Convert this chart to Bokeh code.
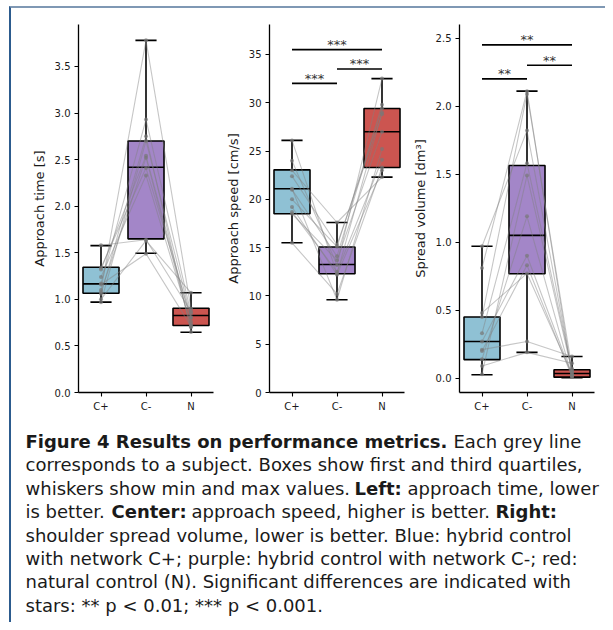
from bokeh.plotting import figure
from bokeh.layouts import row, column
from bokeh.models import Range1d, FixedTicker, NumeralTickFormatter, ColumnDataSource
from bokeh.embed import file_html
from bokeh.resources import INLINE
from bokeh.core.properties import value

# ---------------- data ----------------
categories = ["C+", "C-", "N"]
positions = [0, 1, 2]
box_colors = ["#8fc1d4", "#a386c8", "#cc5550"]

# Approach time [s] : box statistics (min, Q1, median, Q3, max)
time_min = [0.97, 1.495, 0.647]
time_q1 = [1.066, 1.649, 0.719]
time_med = [1.166, 2.417, 0.826]
time_q3 = [1.345, 2.70, 0.905]
time_max = [1.577, 3.78, 1.07]
# per-subject values
time_cplus = [1.58, 1.32, 1.24, 1.17, 1.16, 1.10, 1.08, 1.06, 1.00, 0.97, 1.34]
time_cminus = [1.64, 2.54, 2.33, 2.93, 1.49, 3.78, 2.52, 2.75, 1.63, 2.70, 2.41]
time_n = [0.87, 0.76, 0.73, 0.85, 0.71, 0.90, 0.70, 0.65, 1.07, 0.81, 0.80]

# Approach speed [cm/s]
speed_min = [15.5, 9.6, 22.3]
speed_q1 = [18.5, 12.3, 23.3]
speed_med = [21.1, 13.25, 27.0]
speed_q3 = [23.05, 15.07, 29.4]
speed_max = [26.1, 17.6, 32.5]
speed_cplus = [26.1, 24.0, 22.4, 21.1, 21.0, 23.0, 18.7, 18.5, 15.5, 20.0, 19.2]
speed_cminus = [12.3, 13.2, 15.3, 9.6, 14.1, 17.6, 12.5, 13.7, 10.2, 15.1, 12.2]
speed_n = [29.0, 32.5, 28.8, 25.2, 29.8, 22.3, 24.1, 27.0, 23.3, 29.4, 23.0]
speed_sig_from = [0, 1, 0]
speed_sig_to = [1, 2, 2]
speed_sig_y = [32.0, 33.5, 35.5]
speed_sig_text = ["***", "***", "***"]

# Spread volume [dm3]
vol_min = [0.025, 0.19, 0.003]
vol_q1 = [0.137, 0.768, 0.008]
vol_med = [0.27, 1.05, 0.035]
vol_q3 = [0.45, 1.564, 0.062]
vol_max = [0.97, 2.11, 0.16]
vol_cplus = [0.97, 0.81, 0.48, 0.33, 0.21, 0.20, 0.09, 0.03, 0.14, 0.27, 0.45]
vol_cminus = [1.82, 2.11, 0.77, 1.58, 0.27, 0.83, 0.19, 1.49, 1.19, 0.90, 2.09]
vol_n = [0.04, 0.02, 0.03, 0.06, 0.16, 0.01, 0.11, 0.05, 0.01, 0.02, 0.07]
vol_sig_from = [0, 1, 0]
vol_sig_to = [1, 2, 2]
vol_sig_y = [2.20, 2.30, 2.45]
vol_sig_text = ["**", "**", "**"]

caption_lines = [
    [("bold", "Figure 4 Results on performance metrics."), ("normal", "Each grey line")],
    [("normal", "corresponds to a subject. Boxes show first and third quartiles,")],
    [("normal", "whiskers show min and max values."), ("bold", "Left:"), ("normal", "approach time, lower")],
    [("normal", "is better."), ("bold", "Center:"), ("normal", "approach speed, higher is better."), ("bold", "Right:")],
    [("normal", "shoulder spread volume, lower is better. Blue: hybrid control")],
    [("normal", "with network C+; purple: hybrid control with network C-; red:")],
    [("normal", "natural control (N). Significant differences are indicated with")],
    [("normal", "stars: ** p < 0.01; *** p < 0.001.")],
]
# x start of every segment (layout, px within caption area)
caption_x = [[14, 442], [14], [14, 343, 396], [14, 100, 180, 484], [14], [14], [14], [14]]

FONT = "DejaVu Sans"
INK = "#1a1a1a"


def panel(width, left, right, ylabel, yr, ticks, fmt, mins, q1, med, q3, maxs,
          s_a, s_b, s_c, sig=None):
    p = figure(width=width, height=414, x_range=Range1d(-0.5, 2.5), y_range=Range1d(*yr),
               output_backend="svg", toolbar_location=None,
               min_border_left=left, min_border_right=right,
               min_border_top=16, min_border_bottom=30)
    p.outline_line_color = None
    p.grid.visible = False
    p.background_fill_color = None
    p.border_fill_color = None

    half = 0.4
    cap = 0.235
    src = ColumnDataSource(dict(
        x=positions,
        l=[x - half for x in positions], r=[x + half for x in positions],
        cl=[x - cap for x in positions], cr=[x + cap for x in positions],
        mn=mins, q1=q1, med=med, q3=q3, mx=maxs, color=box_colors))
    # whiskers
    p.segment(x0="x", y0="mn", x1="x", y1="q1", source=src, line_color="black", line_width=1.6)
    p.segment(x0="x", y0="q3", x1="x", y1="mx", source=src, line_color="black", line_width=1.6)
    p.segment(x0="cl", y0="mn", x1="cr", y1="mn", source=src, line_color="black", line_width=1.6)
    p.segment(x0="cl", y0="mx", x1="cr", y1="mx", source=src, line_color="black", line_width=1.6)
    # boxes
    p.quad(left="l", right="r", bottom="q1", top="q3", source=src, fill_color="color",
           line_color="black", line_width=1.6)
    p.segment(x0="l", y0="med", x1="r", y1="med", source=src, line_color="black", line_width=1.6)

    # subjects
    ys = [[a, b, c] for a, b, c in zip(s_a, s_b, s_c)]
    xs = [list(positions) for _ in ys]
    p.multi_line(xs=xs, ys=ys, line_color="#808080", line_alpha=0.45, line_width=1.1)
    px = [positions[0]] * len(s_a) + [positions[1]] * len(s_b) + [positions[2]] * len(s_c)
    py = list(s_a) + list(s_b) + list(s_c)
    p.scatter(x=px, y=py, size=4, fill_color="#777777", line_color=None, fill_alpha=0.7)

    if sig is not None:
        f, t, yv, txt = sig
        ssrc = ColumnDataSource(dict(x0=[positions[i] for i in f], x1=[positions[i] for i in t],
                                     xm=[(positions[a] + positions[b]) / 2 for a, b in zip(f, t)],
                                     y=yv, txt=txt))
        p.segment(x0="x0", y0="y", x1="x1", y1="y", source=ssrc, line_color="black", line_width=1.6)
        p.text(x="xm", y="y", text="txt", source=ssrc, text_align="center",
               text_baseline="alphabetic", text_font=value(FONT), text_font_size="13px",
               text_color="#333333", y_offset=-5)

    p.xaxis.ticker = FixedTicker(ticks=positions)
    p.xaxis.major_label_overrides = {pos: c for pos, c in zip(positions, categories)}
    p.yaxis.ticker = FixedTicker(ticks=ticks)
    p.yaxis.formatter = NumeralTickFormatter(format=fmt)
    p.yaxis.axis_label = ylabel
    for ax in (p.xaxis[0], p.yaxis[0]):
        ax.axis_line_color = "black"
        ax.axis_line_width = 1.3
        ax.major_tick_line_color = "black"
        ax.major_tick_line_width = 1.1
        ax.major_tick_out = 4
        ax.major_tick_in = 0
        ax.minor_tick_out = 0
        ax.minor_tick_in = 0
        ax.major_label_text_font = FONT
        ax.major_label_text_font_size = "10px"
        ax.major_label_text_color = INK
        ax.major_label_standoff = 4
        ax.axis_label_text_font = FONT
        ax.axis_label_text_font_size = "13px"
        ax.axis_label_text_font_style = "normal"
        ax.axis_label_text_color = INK
        ax.axis_label_standoff = 5
    return p


p1 = panel(211, 67, 9, "Approach time [s]", (0, 3.95), [0, 0.5, 1, 1.5, 2, 2.5, 3, 3.5], "0.0",
           time_min, time_q1, time_med, time_q3, time_max, time_cplus, time_cminus, time_n)
p2 = panel(186, 47, 4, "Approach speed [cm/s]", (0, 38.1), [0, 5, 10, 15, 20, 25, 30, 35], "0",
           speed_min, speed_q1, speed_med, speed_q3, speed_max, speed_cplus, speed_cminus, speed_n,
           sig=(speed_sig_from, speed_sig_to, speed_sig_y, speed_sig_text))
p3 = panel(197, 51, 11, "Spread volume [dm³]", (-0.105, 2.60), [0, 0.5, 1, 1.5, 2, 2.5], "0.0",
           vol_min, vol_q1, vol_med, vol_q3, vol_max, vol_cplus, vol_cminus, vol_n,
           sig=(vol_sig_from, vol_sig_to, vol_sig_y, vol_sig_text))

# ---------------- caption ----------------
cap = figure(width=594, height=200, x_range=Range1d(0, 594), y_range=Range1d(200, 0),
             output_backend="svg", toolbar_location=None, min_border=0,
             x_axis_location=None, y_axis_location=None)
cap.outline_line_color = None
cap.grid.visible = False
cap.background_fill_color = None
cap.border_fill_color = None

seg = {"bold": dict(x=[], y=[], t=[]), "normal": dict(x=[], y=[], t=[])}
for i, (line, xs) in enumerate(zip(caption_lines, caption_x)):
    for (style, txt), x in zip(line, xs):
        seg[style]["x"].append(x)
        seg[style]["y"].append(19 + 23.4 * i)
        seg[style]["t"].append(txt)
for style, d in seg.items():
    cap.text(x="x", y="y", text="t", source=ColumnDataSource(d), text_font=value(FONT),
             text_font_size="18px", text_font_style=style, text_color=INK,
             text_baseline="alphabetic", text_align="left")

layout = column(row(p1, p2, p3), cap,
                styles={"margin-left": "9px", "margin-top": "6px",
                        "border-left": "2px solid #2c5b8e", "border-top": "2px solid #7f98b4"})

open("out.html", "w").write(file_html(layout, INLINE))
